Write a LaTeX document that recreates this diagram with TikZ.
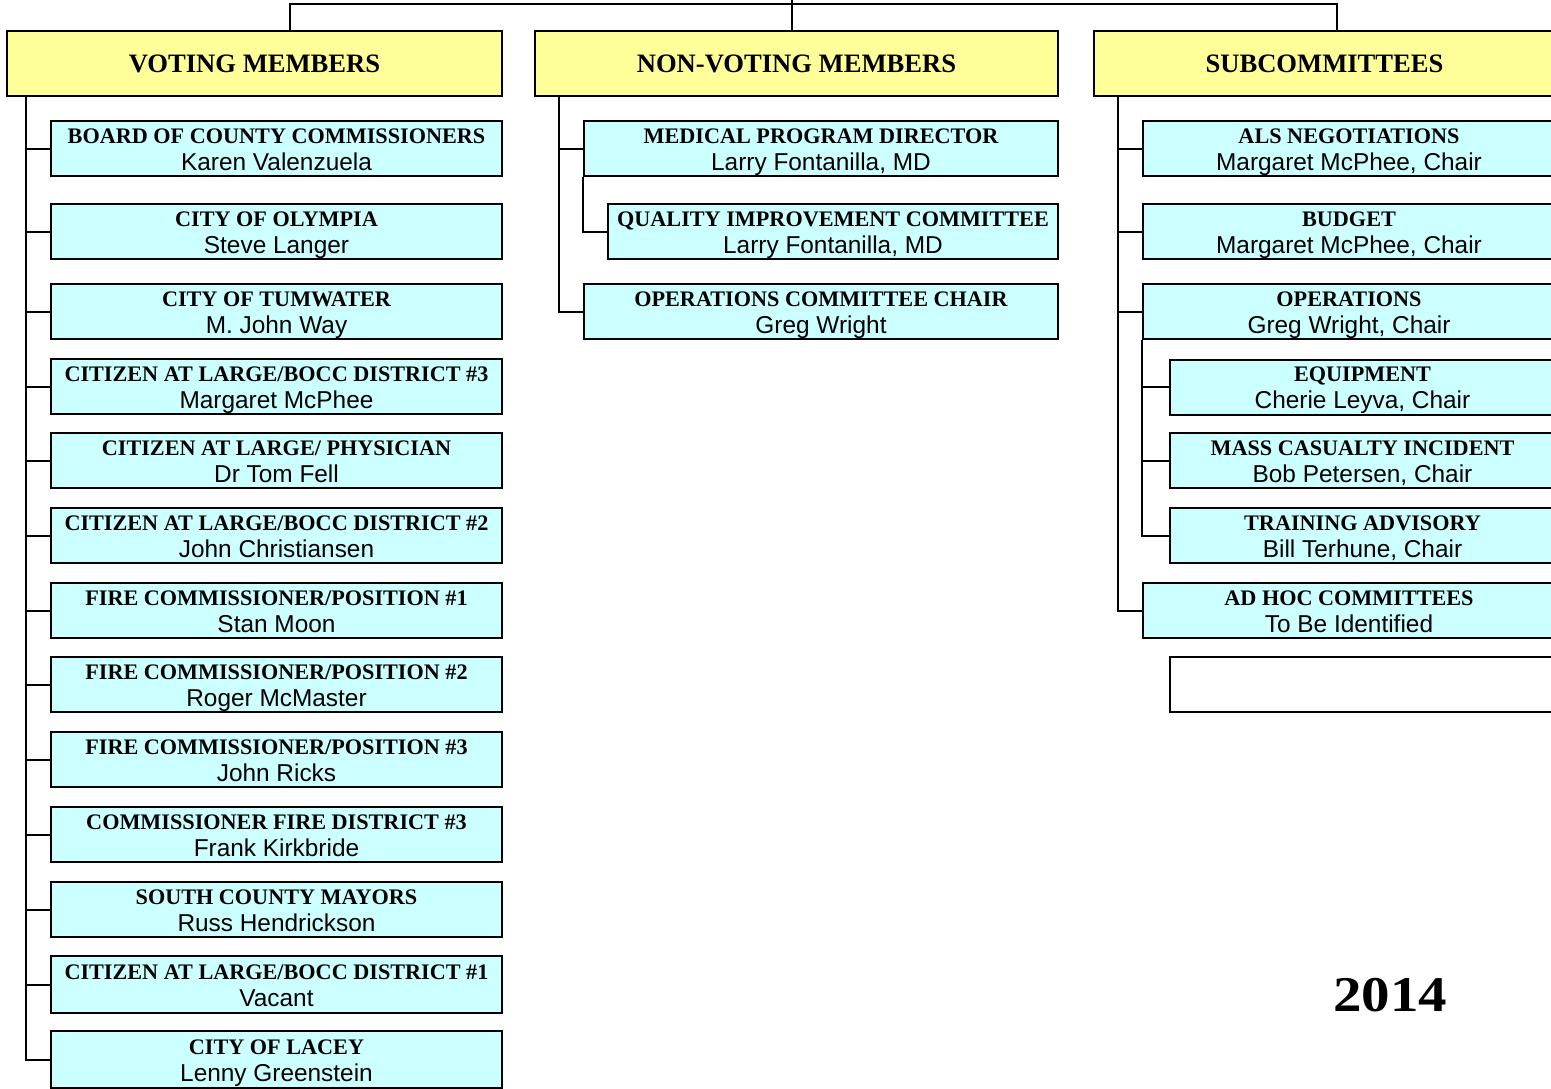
\documentclass[tikz,border=0pt]{standalone}
\usepackage{fontspec}
\setmainfont{Liberation Sans}
\newfontfamily\serifbf{Liberation Serif}
\definecolor{hdyellow}{HTML}{FFFF99}
\definecolor{bxcyan}{HTML}{CCFFFF}
\newcommand\bt[2]{{\serifbf\bfseries\fontsize{22.2}{27}\selectfont\rule{0pt}{22pt}#1}\\{\fontsize{24.4}{27}\selectfont #2\rule[-6pt]{0pt}{6pt}}}
\begin{document}
\begin{tikzpicture}[x=1pt,y=-1pt,
  hdr/.style={draw=black,line width=2pt,fill=hdyellow,inner sep=0pt,minimum height=65pt,
    font=\serifbf\bfseries\fontsize{26.6}{30}\selectfont},
  mbr/.style={draw=black,line width=2pt,fill=bxcyan,inner sep=0pt,minimum height=55pt,
    align=center,font=\fontsize{24.4}{27}\selectfont},
  conn/.style={draw=black,line width=2pt}]
\useasboundingbox (0,0) rectangle (1551,1088);
\clip (0,0) rectangle (1551,1088);
% headers
\node[hdr,minimum width=495pt] (vh) at (254.5,63.5) {VOTING MEMBERS};
\node[hdr,minimum width=523pt] (nh) at (796.5,63.5) {NON-VOTING MEMBERS};
\node[hdr,minimum width=461pt] (sh) at (1324.5,63.5) {SUBCOMMITTEES};
% top connectors
\coordinate (tp) at (792,-10);
\coordinate (tl) at (290,4);
\coordinate (tm) at (792,4);
\coordinate (tr) at (1337,4);
\draw[conn] (tp) -- (tm);
\draw[conn] (tl |- vh.north) -- (tl) -- (tr) -- (tr |- sh.north);
\draw[conn] (tm) -- (nh.north -| tm);
% voting members
\node[mbr,minimum width=451pt] (v1) at (276.5,148.5) {\bt{BOARD OF COUNTY COMMISSIONERS}{Karen Valenzuela}};
\node[mbr,minimum width=451pt] (v2) at (276.5,231.5) {\bt{CITY OF OLYMPIA}{Steve Langer}};
\node[mbr,minimum width=451pt] (v3) at (276.5,311.5) {\bt{CITY OF TUMWATER}{M. John Way}};
\node[mbr,minimum width=451pt] (v4) at (276.5,386.5) {\bt{CITIZEN AT LARGE/BOCC DISTRICT \#3}{Margaret McPhee}};
\node[mbr,minimum width=451pt] (v5) at (276.5,460.5) {\bt{CITIZEN AT LARGE/ PHYSICIAN}{Dr Tom Fell}};
\node[mbr,minimum width=451pt] (v6) at (276.5,535.5) {\bt{CITIZEN AT LARGE/BOCC DISTRICT \#2}{John Christiansen}};
\node[mbr,minimum width=451pt] (v7) at (276.5,610.5) {\bt{FIRE COMMISSIONER/POSITION \#1}{Stan Moon}};
\node[mbr,minimum width=451pt] (v8) at (276.5,684.5) {\bt{FIRE COMMISSIONER/POSITION \#2}{Roger McMaster}};
\node[mbr,minimum width=451pt] (v9) at (276.5,759.5) {\bt{FIRE COMMISSIONER/POSITION \#3}{John Ricks}};
\node[mbr,minimum width=451pt] (v10) at (276.5,834.5) {\bt{COMMISSIONER FIRE DISTRICT \#3}{Frank Kirkbride}};
\node[mbr,minimum width=451pt] (v11) at (276.5,909.5) {\bt{SOUTH COUNTY MAYORS}{Russ Hendrickson}};
\node[mbr,minimum width=451pt,minimum height=57pt] (v12) at (276.5,984.5) {\bt{CITIZEN AT LARGE/BOCC DISTRICT \#1}{Vacant}};
\node[mbr,minimum width=451pt,minimum height=57pt] (v13) at (276.5,1059.5) {\bt{CITY OF LACEY}{Lenny Greenstein}};
\coordinate (vs) at (26,96);
\draw[conn] (vs |- vh.south) |- (v13.west);
\foreach \i in {1,...,12} {\draw[conn] (v\i.west) -- (v\i.west -| vs);}
% non-voting members
\node[mbr,minimum width=474pt] (n1) at (821,148.5) {\bt{MEDICAL PROGRAM DIRECTOR}{Larry Fontanilla, MD}};
\node[mbr,minimum width=450pt] (n2) at (833,231.5) {\bt{QUALITY IMPROVEMENT COMMITTEE}{Larry Fontanilla, MD}};
\node[mbr,minimum width=474pt] (n3) at (821,311.5) {\bt{OPERATIONS COMMITTEE CHAIR}{Greg Wright}};
\coordinate (ns) at (559,96);
\draw[conn] (ns |- nh.south) |- (n3.west);
\draw[conn] (n1.west) -- (n1.west -| ns);
\draw[conn] (n1.south west) |- (n2.west);
% subcommittees
\node[mbr,minimum width=412pt] (s1) at (1349,148.5) {\bt{ALS NEGOTIATIONS}{Margaret McPhee, Chair}};
\node[mbr,minimum width=412pt] (s2) at (1349,231.5) {\bt{BUDGET}{Margaret McPhee, Chair}};
\node[mbr,minimum width=412pt] (s3) at (1349,311.5) {\bt{OPERATIONS}{Greg Wright, Chair}};
\node[mbr,minimum width=385pt,minimum height=54pt] (s4) at (1362.5,387) {\bt{EQUIPMENT}{Cherie Leyva, Chair}};
\node[mbr,minimum width=385pt] (s5) at (1362.5,460.5) {\bt{MASS CASUALTY INCIDENT}{Bob Petersen, Chair}};
\node[mbr,minimum width=385pt] (s6) at (1362.5,535.5) {\bt{TRAINING ADVISORY}{Bill Terhune, Chair}};
\node[mbr,minimum width=412pt] (s7) at (1349,610.5) {\bt{AD HOC COMMITTEES}{To Be Identified}};
\node[mbr,minimum width=385pt,fill=white] (s8) at (1362.5,684.5) {};
\coordinate (ss) at (1118,96);
\draw[conn] (ss |- sh.south) |- (s7.west);
\foreach \i in {1,2,3} {\draw[conn] (s\i.west) -- (s\i.west -| ss);}
\draw[conn] (s3.south west) |- (s6.west);
\draw[conn] (s4.west) -- (s4.west -| s3.west);
\draw[conn] (s5.west) -- (s5.west -| s3.west);
% year
\node[font=\serifbf\bfseries\fontsize{50}{56}\selectfont,inner sep=0pt] (yr) at (1390,995) {\scalebox{1.14}[1]{2014}};
\end{tikzpicture}
\end{document}
